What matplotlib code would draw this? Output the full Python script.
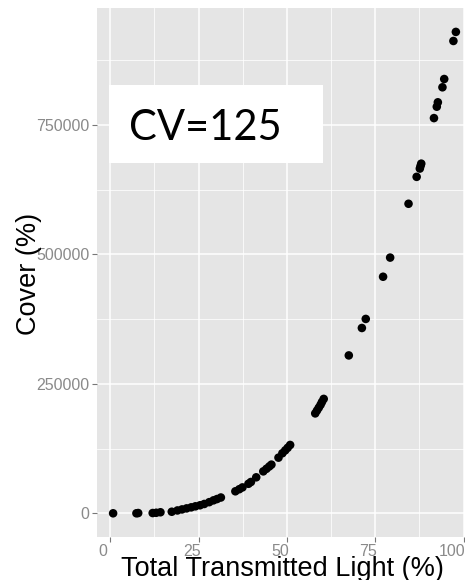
import matplotlib
matplotlib.use("Agg")
import matplotlib.pyplot as plt
import matplotlib.transforms as mtransforms
from matplotlib.patches import Rectangle

# Total transmitted light (%) and cover values
light = [0.8, 7.4, 7.9, 12.0, 13.0, 14.2, 17.4, 19.0, 20.3, 21.6, 22.9, 24.1,
         25.4, 26.6, 28.0, 29.2, 30.2, 31.3, 35.4, 36.5, 37.4, 39.1, 39.8, 41.3,
         43.3, 44.2, 45.0, 45.6, 47.6, 48.7, 49.5, 50.2, 50.9, 58.0, 58.5, 59.0,
         59.5, 59.9, 60.4, 67.5, 71.2, 72.3, 77.2, 79.2, 84.4, 86.7, 87.6, 87.8,
         88.0, 91.6, 92.4, 92.7, 94.0, 94.5, 97.1, 97.8]
cover = [0, 0, 500, 500, 1000, 2000, 3000, 5500, 7500, 9500, 11500, 13500,
         15500, 18000, 21500, 25000, 27500, 30500, 42500, 46500, 50000, 57000,
         60500, 69500, 81000, 86000, 90500, 94000, 107500, 116000, 121500,
         126500, 132000, 193000, 198500, 204000, 209500, 215000, 221000,
         305000, 358000, 375500, 457000, 494000, 598000, 650000, 666000,
         671000, 675500, 763500, 785500, 794000, 823000, 839000, 912500, 930000]

x_ticks = [0, 25, 50, 75, 100]
x_minor = [12.5, 37.5, 62.5, 87.5]
y_ticks = [0, 250000, 500000, 750000]
y_minor = [125000, 375000, 625000, 875000]
annotation = "CV=125"

W, H = 465, 580
fig = plt.figure(figsize=(W / 100, H / 100), dpi=100)
fig.patch.set_facecolor("white")

left, right, top, bottom = 96.5, 464.0, 8.0, 537.0
ax = fig.add_axes([left / W, 1 - bottom / H, (right - left) / W, (bottom - top) / H])
ax.set_facecolor("#E5E5E5")
for s in ax.spines.values():
    s.set_visible(False)

ax.set_xlim(-3.9, 100.1)
ax.set_ylim(-45800, 976200)

ax.set_xticks(x_ticks)
ax.set_xticks(x_minor, minor=True)
ax.set_yticks(y_ticks)
ax.set_yticks(y_minor, minor=True)
ax.grid(which="major", color="white", linewidth=1.1)
ax.grid(which="minor", color="white", linewidth=0.55)
ax.set_axisbelow(True)

tick_font = dict(family="Liberation Sans", size=11.5)
ax.set_xticklabels([str(t) for t in x_ticks], color="#8A8A8A", **tick_font)
ax.set_yticklabels([str(t) for t in y_ticks], color="#8A8A8A", **tick_font)
ax.tick_params(which="major", length=3.5, width=0.8, color="#777777", pad=1.5)
ax.tick_params(which="minor", length=0)

# nudge x tick labels slightly left
labels = ax.get_xticklabels()
for i, lab in enumerate(labels):
    if i == len(labels) - 1:
        lab.set_horizontalalignment("right")
        off = mtransforms.ScaledTranslation(0.02, 0, fig.dpi_scale_trans)
    else:
        off = mtransforms.ScaledTranslation(-0.07, 0, fig.dpi_scale_trans)
    lab.set_transform(lab.get_transform() + off)

ax.scatter(light, cover, s=38, color="black", edgecolors="none", zorder=3)

label_font = dict(family="Liberation Sans", size=19.5, color="black")
fig.text(282 / W, 1 - 576 / H, "Total Transmitted Light (%)",
         ha="center", va="baseline", **label_font)
fig.text(36.5 / W, 1 - 273.5 / H, "Cover (%)", rotation=90,
         rotation_mode="anchor", ha="center", va="baseline", **label_font)

# white annotation box
bx0, bx1, by0, by1 = 109.3, 322.7, 85.0, 162.7
box = Rectangle((bx0 / W, 1 - by1 / H), (bx1 - bx0) / W, (by1 - by0) / H,
                transform=fig.transFigure, facecolor="white", edgecolor="none",
                zorder=5)
fig.patches.append(box)
fig.text(129 / W, 1 - 140 / H, annotation, ha="left", va="baseline",
         family="Lato", size=30, color="black", zorder=6)

fig.savefig("out.png", dpi=100)
